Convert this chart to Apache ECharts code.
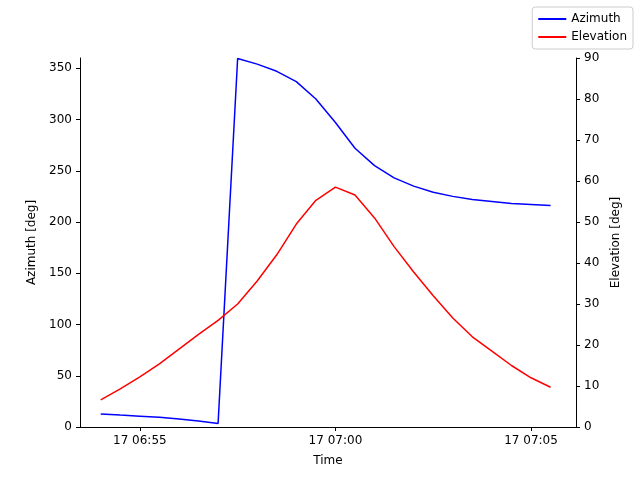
<!DOCTYPE html>
<html><head><meta charset="utf-8">
<script src="https://cdn.jsdelivr.net/npm/echarts@6/dist/echarts.min.js"></script>
<style>html,body{margin:0;padding:0;background:#fff}#c{width:640px;height:480px}</style>
</head><body><div id="c"></div>
<script>
// minutes relative to 17 06:55, sampled every 30 s from 06:54:00
const minutes = [-1,-0.5,0,0.5,1,1.5,2,2.5,3,3.5,4,4.5,5,5.5,6,6.5,7,7.5,8,8.5,9,9.5,10,10.5];
const azimuth = [12.7,11.6,10.6,9.4,7.9,5.9,3.5,359.5,354,347,337,320,297,272,255,243,235,229,225,222,220,218,217,216];
const elevation = [6.6,9.3,12.2,15.4,19,22.6,26,30,35.6,42,49.5,55.3,58.5,56.6,51,44,37.8,32,26.6,22,18.5,15,12,9.7];
const xTickValues = [0,5,10];
const xTickLabels = {0:'17 06:55',5:'17 07:00',10:'17 07:05'};

const font = 'DejaVu Sans';
const axisBase = {
  axisLine:{show:true,onZero:false,lineStyle:{color:'#000',width:1}},
  axisTick:{show:true,inside:false,length:4,lineStyle:{color:'#000'}},
  axisLabel:{color:'#000',fontFamily:font,fontSize:12},
  splitLine:{show:false},
  nameTextStyle:{color:'#000',fontFamily:font,fontSize:12}
};
const chart = echarts.init(document.getElementById('c'));
chart.setOption({
  animation:false,
  grid:{left:80,right:64,top:58,bottom:53},
  legend:{right:7,top:7,orient:'vertical',itemWidth:28,itemHeight:2,itemGap:6,
    borderColor:'#ccc',borderWidth:1,borderRadius:3,padding:[6,6,6,6],
    textStyle:{fontFamily:font,fontSize:12,color:'#000'},icon:'rect',
    data:['Azimuth','Elevation']},
  xAxis:Object.assign({},axisBase,{type:'value',min:-1.53,max:11.15,
    name:'Time',nameLocation:'middle',nameGap:28,
    axisTick:Object.assign({},axisBase.axisTick,{customValues:xTickValues}),
    axisLabel:Object.assign({},axisBase.axisLabel,{customValues:xTickValues,
      formatter:v=>xTickLabels[Math.round(v)]||''})}),
  yAxis:[
    Object.assign({},axisBase,{type:'value',min:0,max:360,interval:50,position:'left',
      name:'Azimuth [deg]',nameLocation:'middle',nameGap:42,
      axisLabel:Object.assign({},axisBase.axisLabel,{showMaxLabel:false})}),
    Object.assign({},axisBase,{type:'value',min:0,max:90,interval:10,position:'right',
      name:'Elevation [deg]',nameLocation:'middle',nameGap:32})
  ],
  series:[
    {name:'Azimuth',type:'line',yAxisIndex:0,showSymbol:false,lineStyle:{color:'#0000ff',width:1.5},itemStyle:{color:'#0000ff'},
     data:minutes.map((m,i)=>[m,azimuth[i]])},
    {name:'Elevation',type:'line',yAxisIndex:1,showSymbol:false,lineStyle:{color:'#ff0000',width:1.5},itemStyle:{color:'#ff0000'},
     data:minutes.map((m,i)=>[m,elevation[i]])}
  ]
});
</script></body></html>
